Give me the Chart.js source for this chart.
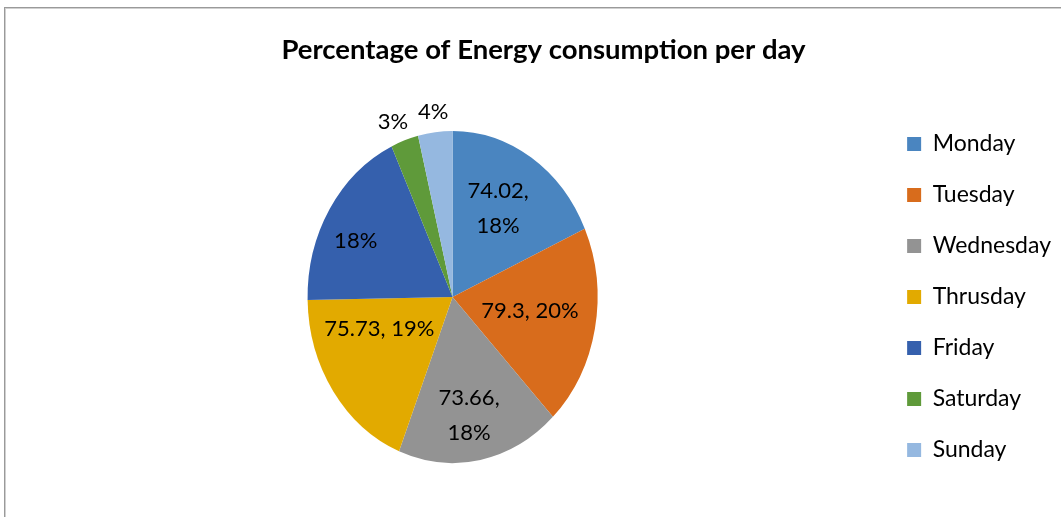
<!DOCTYPE html>
<html>
<head>
<meta charset="utf-8">
<script src="https://cdn.jsdelivr.net/npm/chart.js@4"></script>
<style>
  body { margin: 0; background: #fff; }
  #wrap { position: relative; width: 1061px; height: 517px; overflow: hidden; }
  #frame { position: absolute; left: 4px; top: 7px; width: 1100px; height: 600px;
           border-top: 1px solid #9a9a9a; border-left: 1px solid #9a9a9a;
           box-shadow: inset 1px 1px 0 #d0d0d0; }
  canvas { position: absolute; left: 0; top: 0; }
</style>
</head>
<body>
<div id="wrap">
  <div id="frame"></div>
  <canvas id="energy-chart" width="1061" height="517"></canvas>
</div>
<script>
var days = ['Monday', 'Tuesday', 'Wednesday', 'Thrusday', 'Friday', 'Saturday', 'Sunday'];
var energy = [74.02, 79.3, 73.66, 75.73, 74.5, 12.5, 15.5];
var showValue = [true, true, true, true, false, false, false];
var colors = ['#4A85C0', '#D86C1C', '#939393', '#E2AA00', '#3560AD', '#5F9A3A', '#95B8E0'];

var total = energy.reduce(function(a, b) { return a + b; }, 0);

// label placement: r = fraction of radius, da = angle shift (deg), two = split on two lines
var labelPlace = [
  { r: 0.62, da: -2.5, two: true },
  { r: 0.54, da: -2, two: false },
  { r: 0.72, da: 2, two: true },
  { r: 0.54, da: 14, two: false },
  { r: 0.75, da: -5, two: false },
  { r: 1.13, da: -2, two: false },
  { r: 1.12, da: 0, two: false }
];

var pieStretch = {
  id: 'pieStretch',
  beforeDatasetsDraw: function(chart, args, opts) {
    var arc = chart.getDatasetMeta(0).data[0];
    var ctx = chart.ctx;
    ctx.save();
    ctx.translate(arc.x, arc.y);
    ctx.scale(1, opts.sy);
    ctx.translate(-arc.x, -arc.y);
  },
  afterDatasetsDraw: function(chart, args, opts) {
    var ctx = chart.ctx;
    ctx.restore();
    var meta = chart.getDatasetMeta(0);
    ctx.save();
    ctx.font = '22px Lato';
    ctx.fillStyle = '#000';
    ctx.textAlign = 'center';
    ctx.textBaseline = 'middle';
    meta.data.forEach(function(arc, i) {
      var p = arc.getProps(['startAngle', 'endAngle', 'outerRadius', 'x', 'y'], true);
      var pl = labelPlace[i];
      var mid = (p.startAngle + p.endAngle) / 2 + pl.da * Math.PI / 180;
      var r = p.outerRadius * pl.r;
      var x = p.x + Math.cos(mid) * r;
      var y = p.y + Math.sin(mid) * r * opts.sy;
      var pct = Math.round(energy[i] / total * 100) + '%';
      if (showValue[i]) {
        if (pl.two) {
          ctx.fillText(energy[i] + ',', x, y - 17);
          ctx.fillText(pct, x, y + 18);
        } else {
          ctx.fillText(energy[i] + ', ' + pct, x, y);
        }
      } else {
        ctx.fillText(pct, x, y);
      }
    });
    ctx.restore();
  }
};

var ctx = document.getElementById('energy-chart').getContext('2d');
new Chart(ctx, {
  type: 'pie',
  data: {
    labels: days,
    datasets: [{
      data: energy,
      backgroundColor: colors,
      borderWidth: 0
    }]
  },
  options: {
    responsive: false,
    animation: false,
    radius: 145,
    layout: { padding: { left: 26, right: 0, top: 0, bottom: 5 } },
    plugins: {
      pieStretch: { sy: 1.145 },
      tooltip: { enabled: false },
      title: {
        display: true,
        text: 'Percentage of Energy consumption per day',
        color: '#000',
        font: { family: 'Lato', size: 27.5, weight: 'bold' },
        padding: { top: 34, bottom: 15 }
      },
      legend: {
        position: 'right',
        fullSize: false,
        labels: {
          boxWidth: 14,
          boxHeight: 14,
          padding: 28,
          color: '#000',
          font: { family: 'Lato', size: 23 }
        }
      }
    }
  },
  plugins: [pieStretch]
});
</script>
</body>
</html>
